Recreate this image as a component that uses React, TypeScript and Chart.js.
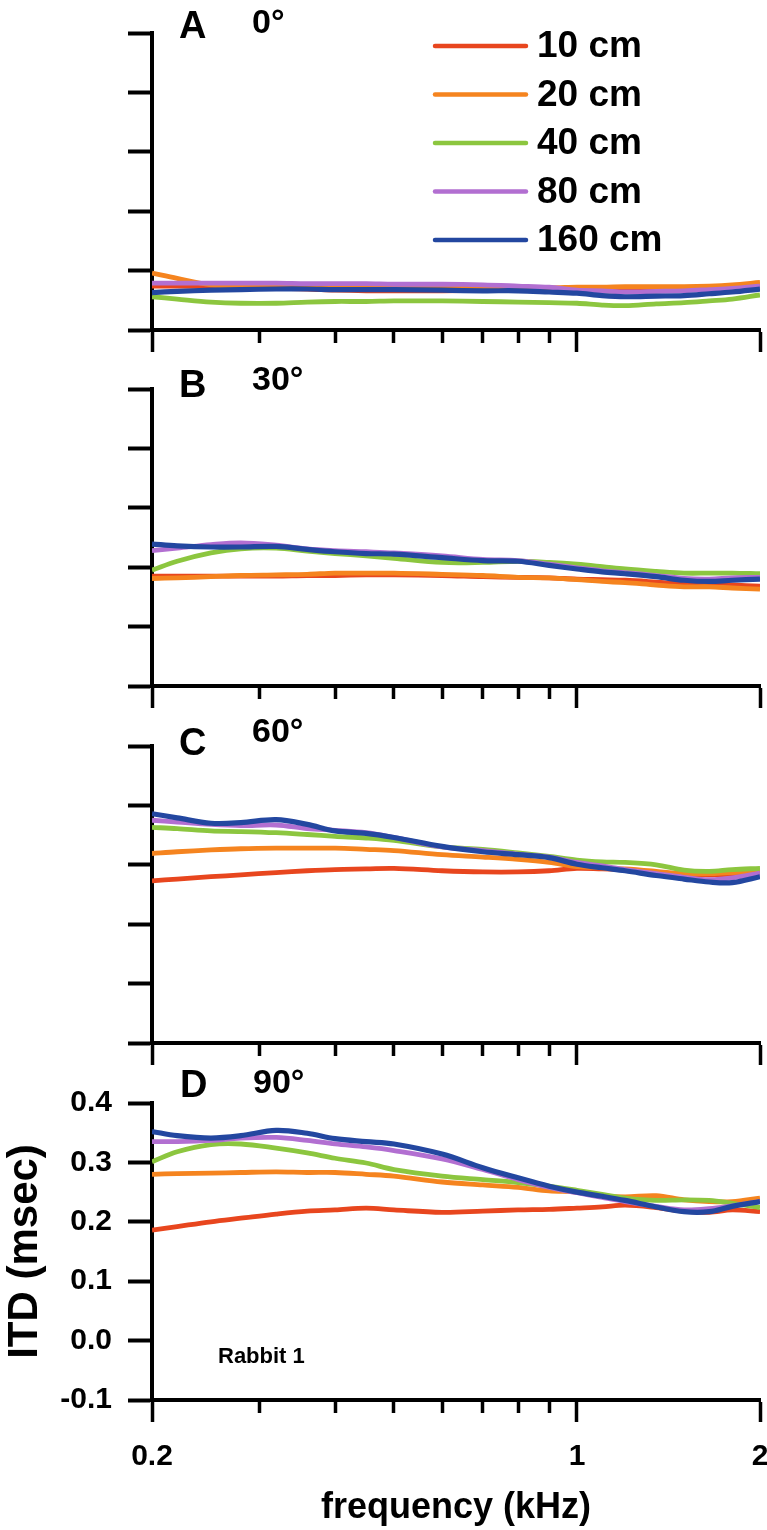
import React, { useEffect, useRef } from "react";
import { Chart, registerables } from "chart.js";

Chart.register(...registerables);

// ---------- data ----------
const FREQ_KHZ = [0.2, 0.22, 0.25, 0.28, 0.32, 0.36, 0.4, 0.45, 0.5, 0.6, 0.7, 0.8, 0.9, 1.0, 1.1, 1.2, 1.35, 1.5, 1.65, 1.8, 2.0];

const SERIES_LABELS = ["10 cm", "20 cm", "40 cm", "80 cm", "160 cm"];
const SERIES_COLORS = ["#E8461E", "#F5841F", "#8CC63F", "#B26FD1", "#2347A0"];

// Panel A (0°)
const A_10 = [-0.026, -0.026, -0.027, -0.028, -0.030, -0.031, -0.033, -0.034, -0.034, -0.034, -0.033, -0.032, -0.032, -0.033, -0.034, -0.034, -0.034, -0.032, -0.031, -0.029, -0.024];
const A_20 = [-0.004, -0.013, -0.024, -0.026, -0.027, -0.028, -0.028, -0.028, -0.028, -0.028, -0.028, -0.028, -0.029, -0.028, -0.028, -0.027, -0.027, -0.027, -0.026, -0.024, -0.020];
const A_40 = [-0.044, -0.048, -0.053, -0.055, -0.055, -0.053, -0.052, -0.052, -0.051, -0.051, -0.052, -0.053, -0.054, -0.055, -0.058, -0.059, -0.056, -0.054, -0.051, -0.048, -0.041];
const A_80 = [-0.021, -0.021, -0.021, -0.021, -0.021, -0.022, -0.022, -0.022, -0.023, -0.023, -0.024, -0.026, -0.028, -0.033, -0.034, -0.036, -0.035, -0.034, -0.032, -0.030, -0.026];
const A_160 = [-0.037, -0.035, -0.033, -0.032, -0.031, -0.031, -0.032, -0.032, -0.032, -0.033, -0.034, -0.034, -0.036, -0.038, -0.042, -0.044, -0.043, -0.042, -0.039, -0.036, -0.031];

// Panel B (30°)
const B_10 = [0.085, 0.085, 0.085, 0.085, 0.085, 0.086, 0.086, 0.087, 0.087, 0.086, 0.084, 0.083, 0.082, 0.080, 0.079, 0.078, 0.075, 0.072, 0.071, 0.070, 0.068];
const B_20 = [0.081, 0.082, 0.084, 0.086, 0.087, 0.088, 0.090, 0.090, 0.090, 0.088, 0.086, 0.083, 0.082, 0.079, 0.076, 0.074, 0.070, 0.067, 0.067, 0.065, 0.063];
const B_40 = [0.095, 0.110, 0.124, 0.131, 0.132, 0.127, 0.123, 0.119, 0.115, 0.108, 0.108, 0.110, 0.108, 0.105, 0.101, 0.097, 0.093, 0.090, 0.090, 0.090, 0.089];
const B_80 = [0.128, 0.132, 0.138, 0.141, 0.137, 0.131, 0.128, 0.126, 0.124, 0.119, 0.113, 0.111, 0.105, 0.099, 0.094, 0.091, 0.086, 0.081, 0.080, 0.082, 0.083];
const B_160 = [0.139, 0.136, 0.134, 0.134, 0.135, 0.130, 0.126, 0.123, 0.122, 0.116, 0.111, 0.110, 0.103, 0.097, 0.092, 0.089, 0.084, 0.078, 0.076, 0.078, 0.080];

// Panel C (60°)
const C_10 = [0.173, 0.176, 0.180, 0.183, 0.187, 0.190, 0.192, 0.193, 0.194, 0.190, 0.188, 0.188, 0.190, 0.194, 0.193, 0.192, 0.187, 0.184, 0.183, 0.184, 0.186];
const C_20 = [0.219, 0.222, 0.225, 0.227, 0.228, 0.228, 0.228, 0.226, 0.224, 0.217, 0.213, 0.209, 0.204, 0.197, 0.195, 0.193, 0.189, 0.185, 0.185, 0.187, 0.188];
const C_40 = [0.263, 0.261, 0.257, 0.256, 0.254, 0.251, 0.248, 0.245, 0.241, 0.230, 0.226, 0.220, 0.214, 0.208, 0.205, 0.204, 0.200, 0.191, 0.189, 0.192, 0.194];
const C_80 = [0.275, 0.272, 0.268, 0.266, 0.267, 0.261, 0.258, 0.254, 0.246, 0.230, 0.224, 0.218, 0.213, 0.204, 0.198, 0.192, 0.185, 0.179, 0.175, 0.178, 0.186];
const C_160 = [0.286, 0.279, 0.270, 0.271, 0.276, 0.268, 0.257, 0.253, 0.246, 0.231, 0.222, 0.217, 0.212, 0.201, 0.195, 0.190, 0.182, 0.176, 0.171, 0.170, 0.180];

// Panel D (90°)
const D_10 = [0.186, 0.192, 0.200, 0.206, 0.213, 0.218, 0.220, 0.223, 0.220, 0.216, 0.218, 0.220, 0.221, 0.223, 0.225, 0.228, 0.224, 0.218, 0.216, 0.220, 0.217];
const D_20 = [0.280, 0.281, 0.282, 0.283, 0.284, 0.283, 0.283, 0.280, 0.277, 0.267, 0.262, 0.258, 0.252, 0.250, 0.244, 0.242, 0.244, 0.237, 0.234, 0.234, 0.240];
const D_40 = [0.301, 0.318, 0.330, 0.331, 0.324, 0.316, 0.307, 0.299, 0.288, 0.277, 0.271, 0.266, 0.260, 0.253, 0.246, 0.240, 0.236, 0.237, 0.236, 0.231, 0.224];
const D_80 = [0.335, 0.335, 0.337, 0.341, 0.342, 0.337, 0.331, 0.326, 0.320, 0.306, 0.288, 0.271, 0.258, 0.249, 0.241, 0.234, 0.226, 0.220, 0.222, 0.227, 0.234];
const D_160 = [0.352, 0.345, 0.341, 0.345, 0.354, 0.349, 0.340, 0.335, 0.331, 0.314, 0.291, 0.274, 0.260, 0.250, 0.243, 0.236, 0.225, 0.217, 0.217, 0.226, 0.234];

const PANEL_LETTERS = ["A", "B", "C", "D"];
const PANEL_AZIMUTHS = ["0°", "30°", "60°", "90°"];
const PANEL_SERIES = [
  [A_10, A_20, A_40, A_80, A_160],
  [B_10, B_20, B_40, B_80, B_160],
  [C_10, C_20, C_40, C_80, C_160],
  [D_10, D_20, D_40, D_80, D_160],
];

const Y_TICKS = [-0.1, 0.0, 0.1, 0.2, 0.3, 0.4];
const Y_TICK_LABELS = ["-0.1", "0.0", "0.1", "0.2", "0.3", "0.4"];
const X_TICKS = [0.2, 0.3, 0.4, 0.5, 0.6, 0.7, 0.8, 0.9, 1, 2];
const X_TICK_LABELS = ["0.2", "", "", "", "", "", "", "", "1", "2"];
const X_TITLE = "frequency (kHz)";
const Y_TITLE = "ITD (msec)";
const NOTE = "Rabbit 1";

// ---------- layout ----------
const W = 767;
const H = 1530;
const PANEL_TOPS = [33, 389, 746, 1103];
const PANEL_H = 297;
const CHART_LEFT = 152;
const CHART_RIGHT = 760;
const LETTER_POS = [[179, 38], [179, 397], [179, 755], [180, 1097]];
const AZ_POS = [[252, 33], [252, 390], [252, 742], [253, 1093]];
const FONT = "'Liberation Sans', Arial, Helvetica, sans-serif";

const panelTextPlugin = {
  id: "panelText",
  afterDraw(chart: any, _args: any, opts: any) {
    const ctx = chart.ctx;
    ctx.save();
    ctx.fillStyle = "#000";
    ctx.textAlign = "left";
    ctx.textBaseline = "alphabetic";
    ctx.font = `bold 38px ${FONT}`;
    ctx.fillText(opts.letter, opts.letterPos[0], opts.letterPos[1]);
    ctx.font = `bold 34px ${FONT}`;
    ctx.fillText(opts.azimuth, opts.azPos[0], opts.azPos[1]);
    if (opts.note) {
      ctx.font = `bold 22px ${FONT}`;
      ctx.fillText(opts.note, 218, 1363);
    }
    if (opts.legend) {
      const ds = chart.data.datasets;
      ctx.textBaseline = "middle";
      ctx.font = `bold 37px ${FONT}`;
      for (let k = 0; k < ds.length; k++) {
        const y = 46 + k * 48.5;
        ctx.strokeStyle = ds[k].borderColor;
        ctx.lineWidth = 4.5;
        ctx.lineCap = "round";
        ctx.beginPath();
        ctx.moveTo(435, y);
        ctx.lineTo(526, y);
        ctx.stroke();
        ctx.fillStyle = "#000";
        ctx.fillText(ds[k].label, 537, y + 1);
      }
    }
    ctx.restore();
  },
};

function makeConfig(i: number): any {
  const isLast = i === 3;
  const top = PANEL_TOPS[i];
  const datasets = PANEL_SERIES[i].map((vals, k) => ({
    label: SERIES_LABELS[k],
    data: FREQ_KHZ.map((f, j) => ({ x: f, y: vals[j] })),
    borderColor: SERIES_COLORS[k],
    backgroundColor: SERIES_COLORS[k],
    borderWidth: k === 4 ? 5.2 : 4.8,
    pointRadius: 0,
    tension: 0.35,
    fill: false,
    order: 5 - k,
  }));
  return {
    type: "line",
    data: { datasets },
    plugins: [panelTextPlugin],
    options: {
      responsive: false,
      animation: false,
      devicePixelRatio: 1,
      events: [],
      layout: { padding: { top, left: 0, right: W - CHART_RIGHT, bottom: 0 } },
      plugins: {
        legend: { display: false },
        tooltip: { enabled: false },
        panelText: {
          letter: PANEL_LETTERS[i],
          azimuth: PANEL_AZIMUTHS[i],
          letterPos: LETTER_POS[i],
          azPos: AZ_POS[i],
          legend: i === 0,
          note: isLast ? NOTE : null,
        },
      },
      scales: {
        x: {
          type: "logarithmic",
          position: "bottom",
          min: 0.2,
          max: 2,
          afterBuildTicks: (s: any) => {
            s.ticks = X_TICKS.map((v) => ({ value: v }));
          },
          afterFit: (s: any) => {
            s.height = H - top - PANEL_H;
            s.paddingLeft = 0;
            s.paddingRight = 0;
          },
          border: { display: true, color: "#000", width: 4 },
          grid: {
            display: true,
            drawOnChartArea: false,
            drawTicks: true,
            tickLength: 22,
            tickWidth: 3.5,
            tickColor: "#000",
            tickBorderDash: (ctx: any) => {
              const idx = X_TICKS.indexOf(ctx.tick ? ctx.tick.value : -1);
              return idx >= 0 && X_TICK_LABELS[idx] !== "" ? [] : [11, 60];
            },
          },
          ticks: {
            display: isLast,
            autoSkip: false,
            maxRotation: 0,
            minRotation: 0,
            padding: 17,
            color: "#000",
            font: { family: FONT, size: 30, weight: "bold" },
            callback: (_v: any, idx: number) => X_TICK_LABELS[idx],
          },
          title: {
            display: isLast,
            text: X_TITLE,
            color: "#000",
            padding: 0,
            font: { family: FONT, size: 36, weight: "bold" },
          },
        },
        y: {
          type: "linear",
          position: "left",
          min: -0.1,
          max: 0.4,
          bounds: "data",
          afterBuildTicks: (s: any) => {
            s.ticks = Y_TICKS.map((v) => ({ value: v }));
          },
          afterFit: (s: any) => {
            s.width = CHART_LEFT;
            s.paddingTop = 0;
            s.paddingBottom = 0;
          },
          border: { display: true, color: "#000", width: 4 },
          grid: {
            display: true,
            drawOnChartArea: false,
            drawTicks: true,
            tickLength: 24,
            tickWidth: 4,
            tickColor: "#000",
          },
          ticks: {
            display: isLast,
            padding: 16,
            color: "#000",
            font: { family: FONT, size: 30, weight: "bold" },
            callback: (_v: any, idx: number) => Y_TICK_LABELS[idx],
          },
          title: {
            display: isLast,
            text: Y_TITLE,
            color: "#000",
            padding: 0,
            font: { family: FONT, size: 42, weight: "bold" },
          },
        },
      },
    },
  };
}

function Panel({ index }: { index: number }) {
  const ref = useRef<HTMLCanvasElement | null>(null);
  useEffect(() => {
    if (!ref.current) return;
    const chart = new Chart(ref.current, makeConfig(index));
    return () => chart.destroy();
  }, [index]);
  return (
    <canvas
      ref={ref}
      width={W}
      height={H}
      style={{ position: "absolute", left: 0, top: 0, width: W, height: H }}
    />
  );
}

export default function App() {
  return (
    <div style={{ position: "absolute", left: 0, top: 0, width: W, height: H, background: "#fff", overflow: "hidden" }}>
      {PANEL_LETTERS.map((_, i) => (
        <Panel key={i} index={i} />
      ))}
    </div>
  );
}
